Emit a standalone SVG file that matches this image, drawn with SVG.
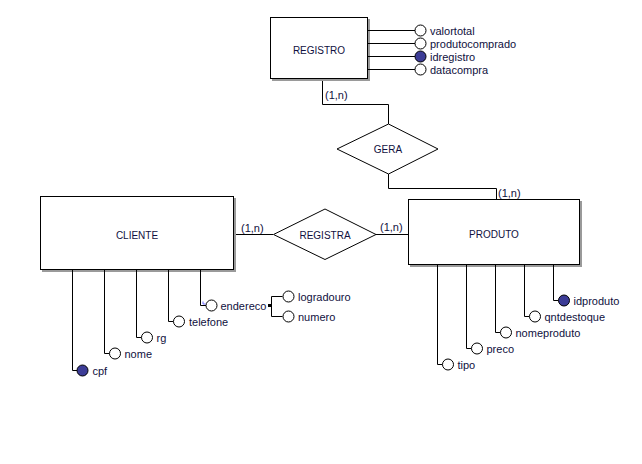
<svg xmlns="http://www.w3.org/2000/svg" width="642" height="464" viewBox="0 0 642 464">
<style>
  .t{font-family:"Liberation Sans",Arial,sans-serif;font-size:11px;fill:#101040}
  .e{font-family:"Liberation Sans",Arial,sans-serif;font-size:10px;fill:#101040;text-anchor:middle}
  .ln{fill:none;stroke:#000;stroke-width:1}
  .box{fill:#fff;stroke:#000;stroke-width:1}
  .sh{fill:#9a9a9a}
  .a{fill:#fff;stroke:#000;stroke-width:1}
  .k{fill:#3c3c96;stroke:#000;stroke-width:1}
  .rel{fill:#fff;stroke:#000;stroke-width:1}
</style>
<rect width="642" height="464" fill="#fff"/>

<g id="connectors">
  <!-- REGISTRO - GERA - PRODUTO -->
  <polyline class="ln" points="322.5,80 322.5,104.5 388.5,104.5 388.5,124"/>
  <polyline class="ln" points="388.5,174 388.5,188.5 496.5,188.5 496.5,199"/>
  <text class="t" x="325" y="99">(1,n)</text>
  <text class="t" x="498" y="197">(1,n)</text>
  <!-- CLIENTE - REGISTRA - PRODUTO -->
  <line class="ln" x1="234" y1="234.5" x2="273" y2="234.5"/>
  <line class="ln" x1="376" y1="234.5" x2="408" y2="234.5"/>
  <text class="t" x="241" y="232">(1,n)</text>
  <text class="t" x="380" y="231">(1,n)</text>
</g>

<g id="registro">
  <rect class="sh" x="272" y="19" width="98" height="62"/>
  <rect class="box" x="270.5" y="17.5" width="97" height="61"/>
  <text class="e" x="319" y="54">REGISTRO</text>
  <line class="ln" x1="368" y1="30.5" x2="415" y2="30.5"/>
  <line class="ln" x1="368" y1="43.5" x2="415" y2="43.5"/>
  <line class="ln" x1="368" y1="56.5" x2="415" y2="56.5"/>
  <line class="ln" x1="368" y1="69.5" x2="415" y2="69.5"/>
  <circle class="a" cx="420.5" cy="30.5" r="5.5"/>
  <circle class="a" cx="420.5" cy="43.5" r="5.5"/>
  <circle class="k" cx="420.5" cy="56.5" r="5.5"/>
  <circle class="a" cx="420.5" cy="69.5" r="5.5"/>
  <text class="t" x="430" y="34.5">valortotal</text>
  <text class="t" x="430" y="47.5">produtocomprado</text>
  <text class="t" x="430" y="60.5">idregistro</text>
  <text class="t" x="430" y="73.5">datacompra</text>
</g>

<g id="gera">
  <polygon class="rel" points="388.5,124 438,149 388.5,174 337,149"/>
  <text class="e" x="388" y="153">GERA</text>
</g>

<g id="registra">
  <polygon class="rel" points="325,209 376,234.5 325,259.5 273.5,234.5"/>
  <text class="e" x="325" y="238.5">REGISTRA</text>
</g>

<g id="cliente">
  <rect class="sh" x="42" y="198" width="194" height="74"/>
  <rect class="box" x="40.5" y="196.5" width="193" height="73"/>
  <text class="e" x="137" y="238.5">CLIENTE</text>
  <polyline class="ln" points="72.5,270 72.5,370.5 77,370.5"/>
  <polyline class="ln" points="104.5,270 104.5,353.5 109.5,353.5"/>
  <polyline class="ln" points="136.5,270 136.5,337.5 141.5,337.5"/>
  <polyline class="ln" points="168.5,270 168.5,321.5 173.5,321.5"/>
  <polyline class="ln" points="200.5,270 200.5,305.5 206,305.5"/>
  <circle class="k" cx="82.5" cy="370.5" r="5.5"/>
  <circle class="a" cx="115" cy="353.5" r="5.5"/>
  <circle class="a" cx="147" cy="337.5" r="5.5"/>
  <circle class="a" cx="179" cy="321.5" r="5.5"/>
  <circle class="a" cx="211.5" cy="305.5" r="5.5"/>
  <polyline points="203,301.5 203,304 205.5,304" fill="none" stroke="#6a6aff" stroke-width="1"/>
  <text class="t" x="92.5" y="374.5">cpf</text>
  <text class="t" x="124.5" y="357.5">nome</text>
  <text class="t" x="156.5" y="341.5">rg</text>
  <text class="t" x="189" y="325.5">telefone</text>
  <text class="t" x="220.5" y="309.5">endereco</text>
  <rect x="268" y="304" width="3" height="3" fill="#000"/>
  <polyline class="ln" points="282.5,296.5 271.5,296.5 271.5,316.5 282.5,316.5"/>
  <circle class="a" cx="288.5" cy="296.5" r="5.5"/>
  <circle class="a" cx="288.5" cy="316.5" r="5.5"/>
  <text class="t" x="298" y="300.5">logradouro</text>
  <text class="t" x="298" y="320.5">numero</text>
</g>

<g id="produto">
  <rect class="sh" x="410" y="201" width="172" height="66"/>
  <rect class="box" x="408.5" y="199.5" width="171" height="65"/>
  <text class="e" x="494" y="237.5">PRODUTO</text>
  <polyline class="ln" points="437.5,265 437.5,364.5 442.5,364.5"/>
  <polyline class="ln" points="466.5,265 466.5,348.5 471.5,348.5"/>
  <polyline class="ln" points="495.5,265 495.5,332.5 500.5,332.5"/>
  <polyline class="ln" points="524.5,265 524.5,316.5 529.5,316.5"/>
  <polyline class="ln" points="553.5,265 553.5,300.5 558.5,300.5"/>
  <circle class="a" cx="448" cy="364.5" r="5.5"/>
  <circle class="a" cx="477" cy="348.5" r="5.5"/>
  <circle class="a" cx="506" cy="332.5" r="5.5"/>
  <circle class="a" cx="535" cy="316.5" r="5.5"/>
  <circle class="k" cx="564" cy="300.5" r="5.5"/>
  <text class="t" x="457.5" y="368.5">tipo</text>
  <text class="t" x="486.5" y="352.5">preco</text>
  <text class="t" x="515.5" y="336.5">nomeproduto</text>
  <text class="t" x="544.5" y="320.5">qntdestoque</text>
  <text class="t" x="573.5" y="304.5">idproduto</text>
</g>
</svg>
